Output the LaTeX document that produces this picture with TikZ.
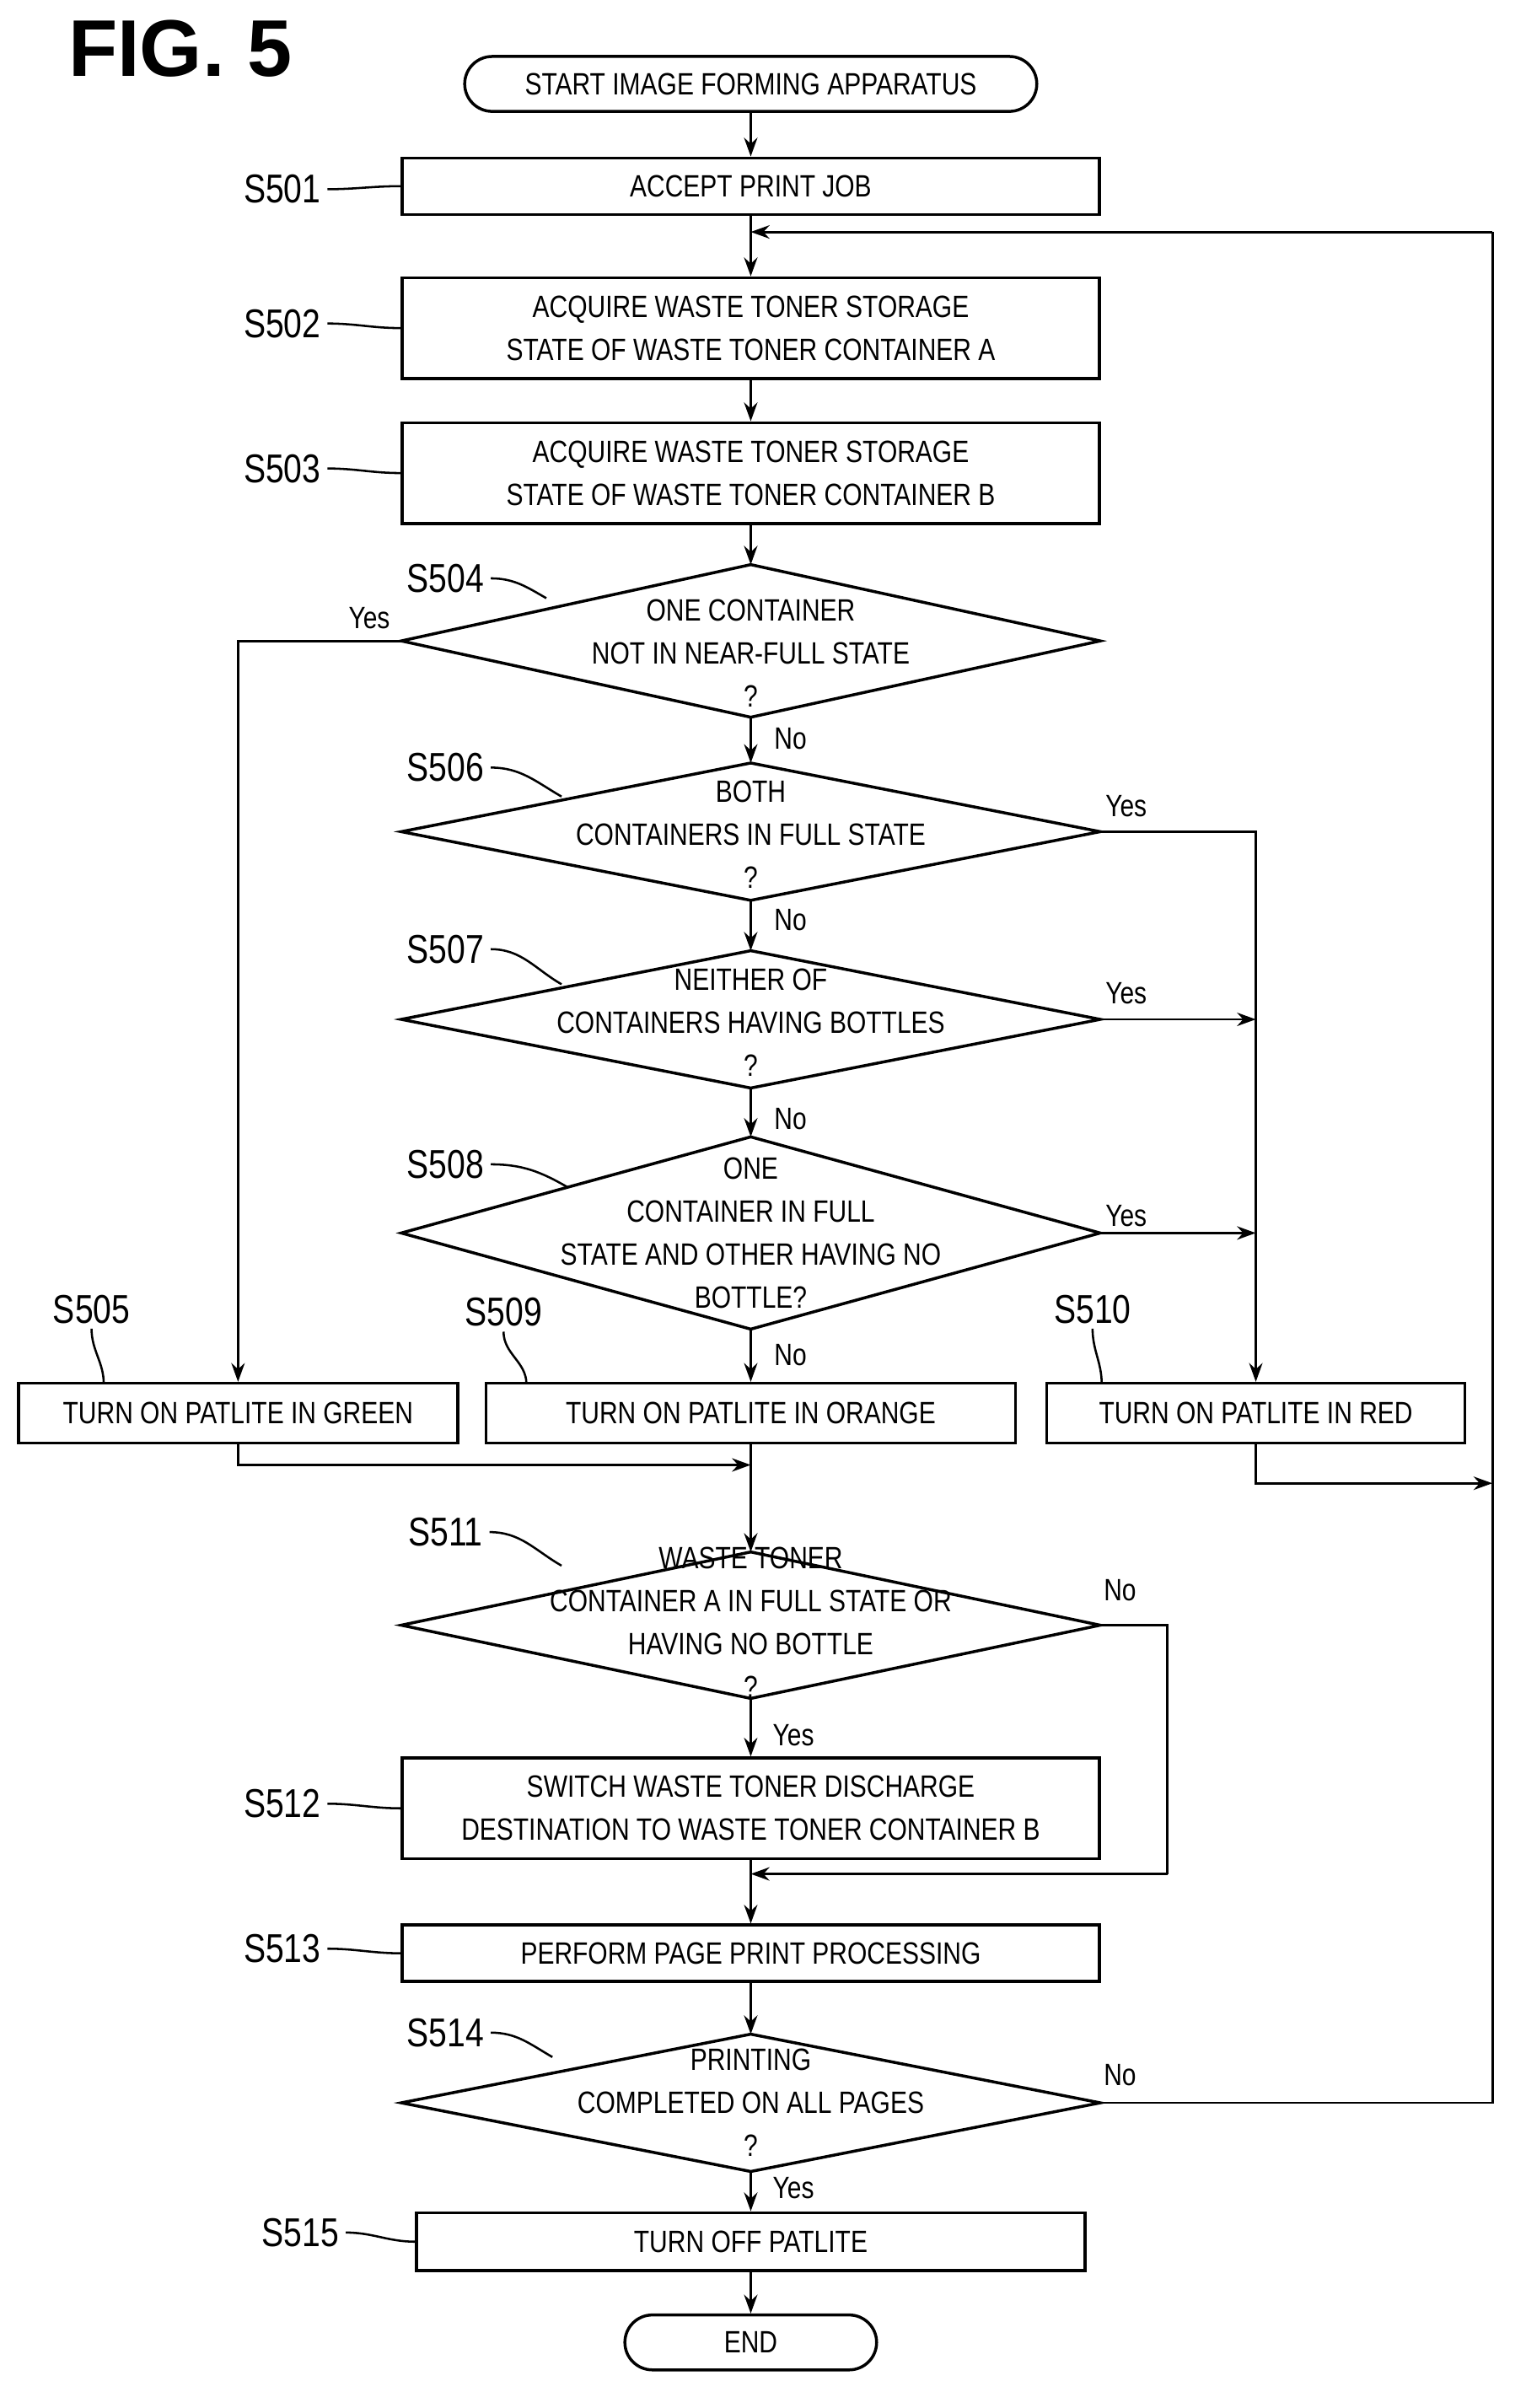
\documentclass[tikz,border=0pt]{standalone}
\usepackage{fontspec}
\setmainfont{Liberation Sans}[FakeStretch=0.82]
\newfontfamily\figfont{Liberation Sans}
\usetikzlibrary{arrows.meta}
\begin{document}
\begin{tikzpicture}[x=0.02cm,y=-0.02cm,
 every node/.style={font=\fontsize{11.5}{16}\selectfont,align=center,inner sep=0pt},
 box/.style={draw,line width=1.1pt,minimum height=0.74cm},
 term/.style={draw,line width=1.1pt,rounded corners=0.36cm,minimum height=0.72cm},
 ln/.style={line width=0.9pt},
 ar/.style={line width=0.9pt,-{Stealth[length=7pt,width=5pt]}},
 lead/.style={line width=0.8pt}]
\useasboundingbox (0,0) rectangle (1000,1578);
\node[font=\figfont\bfseries\fontsize{30}{30}\selectfont] (fig) at (118,32) {FIG. 5};
\newcommand{\dia}[5]{% name cx cy halfw halfh
 \coordinate (#1-l) at (#2-#4,#3); \coordinate (#1-r) at (#2+#4,#3);
 \coordinate (#1-t) at (#2,#3-#5); \coordinate (#1-b) at (#2,#3+#5);
 \draw[line width=1.1pt] (#1-l)--(#1-t)--(#1-r)--(#1-b)--cycle;}
\node[term,minimum width=7.5cm] (st) at (492,55) {START IMAGE FORMING APPARATUS};
\node[box,minimum width=9.14cm] (s501) at (492,122) {ACCEPT PRINT JOB};
\node[box,minimum width=9.14cm,minimum height=1.32cm] (s502) at (492,215) {ACQUIRE WASTE TONER STORAGE\\STATE OF WASTE TONER CONTAINER A};
\node[box,minimum width=9.14cm,minimum height=1.32cm] (s503) at (492,310) {ACQUIRE WASTE TONER STORAGE\\STATE OF WASTE TONER CONTAINER B};
\dia{d504}{492}{420}{229}{50}
\node (t504) at (492,428) {ONE CONTAINER\\NOT IN NEAR-FULL STATE\\?};
\dia{d506}{492}{545}{229}{45}
\node (t506) at (492,547) {BOTH\\CONTAINERS IN FULL STATE\\?};
\dia{d507}{492}{668}{229}{45}
\node (t507) at (492,670) {NEITHER OF\\CONTAINERS HAVING BOTTLES\\?};
\dia{d508}{492}{808}{229}{63}
\node (t508) at (492,808) {ONE\\CONTAINER IN FULL\\STATE AND OTHER HAVING NO\\BOTTLE?};
\node[box,minimum width=5.76cm,minimum height=0.78cm] (s505) at (156,926) {TURN ON PATLITE IN GREEN};
\node[box,minimum width=6.94cm,minimum height=0.78cm] (s509) at (492,926) {TURN ON PATLITE IN ORANGE};
\node[box,minimum width=5.48cm,minimum height=0.78cm] (s510) at (823,926) {TURN ON PATLITE IN RED};
\dia{d511}{492}{1065}{229}{48}
\node (t511) at (492,1063) {WASTE TONER\\CONTAINER A IN FULL STATE OR\\HAVING NO BOTTLE\\?};
\node[box,minimum width=9.14cm,minimum height=1.32cm] (s512) at (492,1185) {SWITCH WASTE TONER DISCHARGE\\DESTINATION TO WASTE TONER CONTAINER B};
\node[box,minimum width=9.14cm] (s513) at (492,1280) {PERFORM PAGE PRINT PROCESSING};
\dia{d514}{492}{1378}{229}{45}
\node (t514) at (492,1378) {PRINTING\\COMPLETED ON ALL PAGES\\?};
\node[box,minimum width=8.76cm,minimum height=0.76cm] (s515) at (492,1469) {TURN OFF PATLITE};
\node[term,minimum width=3.3cm] (end) at (492,1535) {END};
% main flow
\draw[ar] (st)--(s501);
\draw[ar] (s501)--(s502);
\draw[ar] (s502)--(s503);
\draw[ar] (s503)--(d504-t);
\draw[ar] (d504-b)--(d506-t);
\draw[ar] (d506-b)--(d507-t);
\draw[ar] (d507-b)--(d508-t);
\draw[ar] (d508-b)--(s509);
\coordinate (m1) at (492,960);
\draw[ar] (s509)--(d511-t);
\draw[ar] (d504-l) -| (s505.north);
\draw[ar] (s505.south) |- (m1);
\draw[ar] (d506-r) -| (s510.north);
\draw[ar] (d507-r) -- (d507-r-|s510.north);
\draw[ar] (d508-r) -- (d508-r-|s510.north);
\coordinate (rr) at (978,972);
\draw[ar] (s510.south) |- (rr);
\draw[ar] (d511-b)--(s512);
\coordinate (c511) at (765,1228);
\draw[ln] (d511-r) -| (c511);
\draw[ar] (c511) -- (492,1228);
\draw[ar] (s512)--(s513);
\draw[ar] (s513)--(d514-t);
\draw[ar] (d514-b)--(s515);
\draw[ar] (s515)--(end);
\coordinate (lp) at (978,152);
\draw[ln] (d514-r) -| (lp);
\draw[ar] (lp) -- (492,152);
% yes/no
\node (y504) at (242,405) {Yes};
\node (n504) at (518,484) {No};
\node (y506) at (738,528) {Yes};
\node (n506) at (518,603) {No};
\node (y507) at (738,651) {Yes};
\node (n507) at (518,733) {No};
\node (y508) at (738,797) {Yes};
\node (n508) at (518,888) {No};
\node (n511) at (734,1042) {No};
\node (y511) at (520,1137) {Yes};
\node (n514) at (734,1360) {No};
\node (y514) at (520,1434) {Yes};
% step labels
\tikzset{sl/.style={font=\fontsize{15}{15}\selectfont}}
\node[sl] (l501) at (185,124) {S501};
\draw[lead] (l501.east) ++(4,0) to[out=0,in=180] (s501.west);
\node[sl] (l502) at (185,212) {S502};
\draw[lead] (l502.east) ++(4,0) to[out=0,in=180] (s502.west);
\node[sl] (l503) at (185,307) {S503};
\draw[lead] (l503.east) ++(4,0) to[out=0,in=180] (s503.west);
\node[sl] (l504) at (292,379) {S504};
\draw[lead] (l504.east) ++(4,0) to[out=0,in=150] (358,392);
\node[sl] (l506) at (292,503) {S506};
\draw[lead] (l506.east) ++(4,0) to[out=0,in=150] (368,522);
\node[sl] (l507) at (292,622) {S507};
\draw[lead] (l507.east) ++(4,0) to[out=0,in=150] (368,645);
\node[sl] (l508) at (292,763) {S508};
\draw[lead] (l508.east) ++(4,0) to[out=0,in=150] (372,778);
\node[sl] (l505) at (60,858) {S505};
\draw[lead] (l505.south) ++(0,3) to[out=-90,in=90] (68,907);
\node[sl] (l509) at (330,860) {S509};
\draw[lead] (l509.south) ++(0,3) to[out=-90,in=90] (345,907);
\node[sl] (l510) at (716,858) {S510};
\draw[lead] (l510.south) ++(0,3) to[out=-90,in=90] (722,907);
\node[sl] (l511) at (292,1004) {S511};
\draw[lead] (l511.east) ++(4,0) to[out=0,in=150] (368,1026);
\node[sl] (l512) at (185,1182) {S512};
\draw[lead] (l512.east) ++(4,0) to[out=0,in=180] (s512.west);
\node[sl] (l513) at (185,1277) {S513};
\draw[lead] (l513.east) ++(4,0) to[out=0,in=180] (s513.west);
\node[sl] (l514) at (292,1332) {S514};
\draw[lead] (l514.east) ++(4,0) to[out=0,in=150] (362,1348);
\node[sl] (l515) at (197,1463) {S515};
\draw[lead] (l515.east) ++(4,0) to[out=0,in=180] (s515.west);
\end{tikzpicture}
\end{document}
